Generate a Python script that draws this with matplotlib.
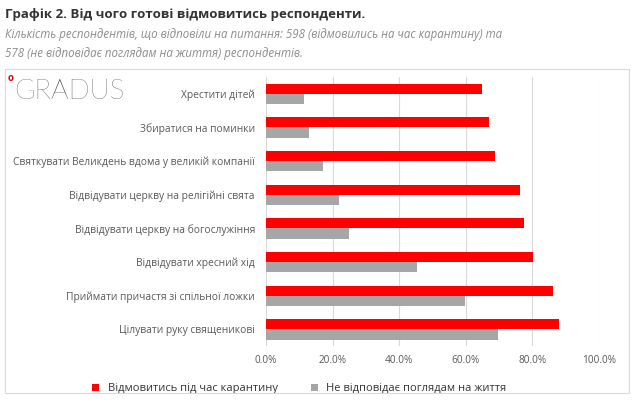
import matplotlib.pyplot as plt
from matplotlib.patches import Rectangle
import numpy as np

categories = ['Хрестити дітей', 'Збиратися на поминки',
              'Святкувати Великдень вдома у великій компанії',
              'Відвідувати церкву на релігійні свята',
              'Відвідувати церкву на богослужіння',
              'Відвідувати хресний хід',
              'Приймати причастя зі спільної ложки',
              'Цілувати руку священикові']
refuse = [65.0, 67.1, 68.7, 76.2, 77.5, 80.1, 86.2, 88.1]
not_fit = [11.3, 12.9, 17.1, 21.9, 24.9, 45.3, 59.8, 69.7]
xticks = [0, 20, 40, 60, 80, 100]

plt.rcParams['font.family'] = 'Open Sans'
fig = plt.figure(figsize=(6.35, 4.05), dpi=100)
fig.patches.append(Rectangle((0.008, 0.03), 0.982, 0.80, transform=fig.transFigure,
                             fill=False, ec='#d9d9d9', lw=0.8))
fig.text(0.008, 0.965, 'Графік 2. Від чого готові відмовитись респонденти.',
         fontsize=9.5, fontweight='bold', color='#333333', va='center')
fig.text(0.008, 0.915, 'Кількість респондентів, що відповіли на питання: 598 (відмовились на час карантину) та',
         fontsize=8.3, style='italic', color='#8c8c8c', va='center')
fig.text(0.008, 0.868, '578 (не відповідає поглядам на життя) респондентів.',
         fontsize=8.3, style='italic', color='#8c8c8c', va='center')
fig.text(0.022, 0.775, 'GRADUS', fontsize=20, color='#222222', va='center',
         family='Lato', fontweight='light')
fig.text(0.012, 0.805, 'o', fontsize=7, color='#e60000', va='center', fontweight='bold')

ax = fig.add_axes([0.419, 0.145, 0.524, 0.665])
y = np.arange(len(categories))
h = 0.3
ax.barh(y - h / 2, refuse, height=h, color='#ff0000', label='Відмовитись під час карантину')
ax.barh(y + h / 2, not_fit, height=h, color='#a6a6a6', label='Не відповідає поглядам на життя')
ax.set_ylim(len(categories) - 0.5, -0.5)
ax.set_yticks(y)
ax.set_yticklabels(categories, fontsize=7.4, color='#595959')
ax.set_xlim(0, 100)
ax.set_xticks(xticks)
ax.set_xticklabels(['%.1f%%' % v for v in xticks], fontsize=7.2, color='#595959')
ax.xaxis.set_tick_params(length=0, pad=6)
ax.yaxis.set_tick_params(length=0, pad=8)
ax.grid(axis='x', color='#d9d9d9', lw=0.8)
ax.set_axisbelow(True)
for s in ax.spines.values():
    s.set_visible(False)
ax.legend(loc='upper center', bbox_to_anchor=(0.1, -0.1), ncol=2, frameon=False,
          fontsize=8, handlelength=0.6, handleheight=0.6, columnspacing=3,
          labelcolor='#333333')

fig.savefig('out.png', dpi=100)
